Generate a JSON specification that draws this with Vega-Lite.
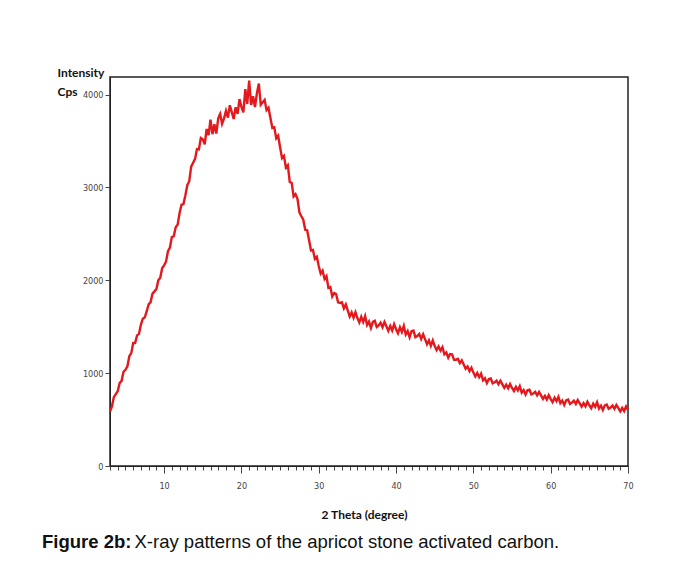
{
  "$schema": "https://vega.github.io/schema/vega-lite/v6.json",
  "autosize": {"type": "none"},
  "width": 518,
  "height": 389,
  "padding": {"left": 110, "top": 77, "right": 53, "bottom": 97},
  "background": "white",
  "config": {
    "view": {"stroke": "#222", "strokeWidth": 1.5},
    "axis": {"domainColor": "#222", "tickColor": "#444", "labelColor": "#444", "labelFont": "Liberation Sans Narrow, DejaVu Sans Condensed, sans-serif", "labelFontSize": 9, "grid": false}
  },
  "title": {
    "text": "Figure 2b:",
    "subtitle": "\u200b\u00a0\u00a0\u00a0\u00a0\u00a0\u00a0\u00a0\u00a0\u00a0\u00a0\u00a0\u00a0\u00a0\u00a0\u00a0\u00a0\u00a0\u00a0X-ray patterns of the apricot stone activated carbon.",
    "orient": "bottom",
    "anchor": "start",
    "frame": "group",
    "dx": -68,
    "offset": 13,
    "font": "Liberation Sans",
    "fontSize": 18.5,
    "fontWeight": "bold",
    "color": "#111",
    "subtitleFont": "Liberation Sans",
    "subtitleFontSize": 18.5,
    "subtitleFontWeight": "normal",
    "subtitleColor": "#111",
    "subtitlePadding": -18.5
  },
  "data": {"values": [
    {"t":3.00,"i":585},{"t":3.25,"i":643},{"t":3.50,"i":742},{"t":3.75,"i":774},{"t":4.00,"i":805},{"t":4.25,"i":893},{"t":4.50,"i":917},{"t":4.75,"i":1015},
    {"t":5.00,"i":1036},{"t":5.25,"i":1074},{"t":5.50,"i":1183},{"t":5.75,"i":1216},{"t":6.00,"i":1325},{"t":6.25,"i":1324},{"t":6.50,"i":1407},{"t":6.75,"i":1423},
    {"t":7.00,"i":1524},{"t":7.25,"i":1587},{"t":7.50,"i":1601},{"t":7.75,"i":1667},{"t":8.00,"i":1741},{"t":8.25,"i":1765},{"t":8.50,"i":1857},{"t":8.75,"i":1881},
    {"t":9.00,"i":1905},{"t":9.25,"i":2001},{"t":9.50,"i":2029},{"t":9.75,"i":2133},{"t":10.00,"i":2161},{"t":10.25,"i":2203},{"t":10.50,"i":2315},{"t":10.75,"i":2352},
    {"t":11.00,"i":2465},{"t":11.25,"i":2476},{"t":11.50,"i":2572},{"t":11.75,"i":2600},{"t":12.00,"i":2724},{"t":12.25,"i":2814},{"t":12.50,"i":2821},{"t":12.75,"i":2917},
    {"t":13.00,"i":3026},{"t":13.25,"i":3068},{"t":13.50,"i":3224},{"t":13.75,"i":3266},{"t":14.00,"i":3308},{"t":14.25,"i":3413},{"t":14.50,"i":3410},{"t":14.75,"i":3533},
    {"t":15.00,"i":3519},{"t":15.25,"i":3464},{"t":15.50,"i":3630},{"t":15.75,"i":3564},{"t":16.00,"i":3730},{"t":16.25,"i":3574},{"t":16.50,"i":3682},{"t":16.75,"i":3581},
    {"t":17.00,"i":3744},{"t":17.25,"i":3792},{"t":17.50,"i":3686},{"t":17.75,"i":3745},{"t":18.00,"i":3826},{"t":18.25,"i":3752},{"t":18.50,"i":3886},{"t":18.75,"i":3812},
    {"t":19.00,"i":3738},{"t":19.25,"i":3864},{"t":19.50,"i":3792},{"t":19.75,"i":3952},{"t":20.00,"i":3869},{"t":20.25,"i":3809},{"t":20.50,"i":4060},{"t":20.75,"i":3899},
    {"t":21.00,"i":4150},{"t":21.25,"i":3889},{"t":21.50,"i":3982},{"t":21.75,"i":3866},{"t":22.00,"i":4014},{"t":22.25,"i":4120},{"t":22.50,"i":3891},{"t":22.75,"i":3917},
    {"t":23.00,"i":3942},{"t":23.25,"i":3833},{"t":23.50,"i":3858},{"t":23.75,"i":3749},{"t":24.00,"i":3641},{"t":24.25,"i":3648},{"t":24.50,"i":3530},{"t":24.75,"i":3558},
    {"t":25.00,"i":3433},{"t":25.25,"i":3316},{"t":25.50,"i":3340},{"t":25.75,"i":3216},{"t":26.00,"i":3240},{"t":26.25,"i":3060},{"t":26.50,"i":3049},{"t":26.75,"i":2904},
    {"t":27.00,"i":2928},{"t":27.25,"i":2879},{"t":27.50,"i":2732},{"t":27.75,"i":2690},{"t":28.00,"i":2653},{"t":28.25,"i":2544},{"t":28.50,"i":2540},{"t":28.75,"i":2431},
    {"t":29.00,"i":2321},{"t":29.25,"i":2327},{"t":29.50,"i":2232},{"t":29.75,"i":2254},{"t":30.00,"i":2154},{"t":30.25,"i":2073},{"t":30.50,"i":2103},{"t":30.75,"i":2015},
    {"t":31.00,"i":2045},{"t":31.25,"i":1919},{"t":31.50,"i":1926},{"t":31.75,"i":1827},{"t":32.00,"i":1862},{"t":32.25,"i":1851},{"t":32.50,"i":1763},{"t":32.75,"i":1757},
    {"t":33.00,"i":1763},{"t":33.25,"i":1699},{"t":33.50,"i":1740},{"t":33.75,"i":1676},{"t":34.00,"i":1611},{"t":34.25,"i":1654},{"t":34.50,"i":1597},{"t":34.75,"i":1656},
    {"t":35.00,"i":1594},{"t":35.25,"i":1546},{"t":35.50,"i":1608},{"t":35.75,"i":1553},{"t":36.00,"i":1615},{"t":36.25,"i":1519},{"t":36.50,"i":1556},{"t":36.75,"i":1487},
    {"t":37.00,"i":1552},{"t":37.25,"i":1564},{"t":37.50,"i":1498},{"t":37.75,"i":1515},{"t":38.00,"i":1543},{"t":38.25,"i":1495},{"t":38.50,"i":1552},{"t":38.75,"i":1505},
    {"t":39.00,"i":1456},{"t":39.25,"i":1508},{"t":39.50,"i":1459},{"t":39.75,"i":1528},{"t":40.00,"i":1474},{"t":40.25,"i":1430},{"t":40.50,"i":1495},{"t":40.75,"i":1444},
    {"t":41.00,"i":1510},{"t":41.25,"i":1416},{"t":41.50,"i":1453},{"t":41.75,"i":1386},{"t":42.00,"i":1452},{"t":42.25,"i":1459},{"t":42.50,"i":1388},{"t":42.75,"i":1400},
    {"t":43.00,"i":1423},{"t":43.25,"i":1369},{"t":43.50,"i":1420},{"t":43.75,"i":1366},{"t":44.00,"i":1311},{"t":44.25,"i":1353},{"t":44.50,"i":1294},{"t":44.75,"i":1353},
    {"t":45.00,"i":1291},{"t":45.25,"i":1249},{"t":45.50,"i":1287},{"t":45.75,"i":1242},{"t":46.00,"i":1280},{"t":46.25,"i":1203},{"t":46.50,"i":1223},{"t":46.75,"i":1166},
    {"t":47.00,"i":1206},{"t":47.25,"i":1203},{"t":47.50,"i":1144},{"t":47.75,"i":1145},{"t":48.00,"i":1154},{"t":48.25,"i":1108},{"t":48.50,"i":1138},{"t":48.75,"i":1093},
    {"t":49.00,"i":1047},{"t":49.25,"i":1071},{"t":49.50,"i":1022},{"t":49.75,"i":1058},{"t":50.00,"i":1006},{"t":50.25,"i":964},{"t":50.50,"i":1002},{"t":50.75,"i":957},
    {"t":51.00,"i":995},{"t":51.25,"i":922},{"t":51.50,"i":945},{"t":51.75,"i":893},{"t":52.00,"i":936},{"t":52.25,"i":942},{"t":52.50,"i":891},{"t":52.75,"i":901},
    {"t":53.00,"i":919},{"t":53.25,"i":881},{"t":53.50,"i":918},{"t":53.75,"i":880},{"t":54.00,"i":842},{"t":54.25,"i":876},{"t":54.50,"i":837},{"t":54.75,"i":883},
    {"t":55.00,"i":841},{"t":55.25,"i":807},{"t":55.50,"i":852},{"t":55.75,"i":814},{"t":56.00,"i":860},{"t":56.25,"i":791},{"t":56.50,"i":818},{"t":56.75,"i":769},
    {"t":57.00,"i":816},{"t":57.25,"i":822},{"t":57.50,"i":771},{"t":57.75,"i":781},{"t":58.00,"i":799},{"t":58.25,"i":761},{"t":58.50,"i":798},{"t":58.75,"i":760},
    {"t":59.00,"i":722},{"t":59.25,"i":756},{"t":59.50,"i":717},{"t":59.75,"i":763},{"t":60.00,"i":721},{"t":60.25,"i":688},{"t":60.50,"i":735},{"t":60.75,"i":698},
    {"t":61.00,"i":745},{"t":61.25,"i":677},{"t":61.50,"i":705},{"t":61.75,"i":658},{"t":62.00,"i":706},{"t":62.25,"i":715},{"t":62.50,"i":669},{"t":62.75,"i":682},
    {"t":63.00,"i":704},{"t":63.25,"i":669},{"t":63.50,"i":710},{"t":63.75,"i":675},{"t":64.00,"i":640},{"t":64.25,"i":677},{"t":64.50,"i":643},{"t":64.75,"i":692},
    {"t":65.00,"i":654},{"t":65.25,"i":623},{"t":65.50,"i":672},{"t":65.75,"i":638},{"t":66.00,"i":687},{"t":66.25,"i":620},{"t":66.50,"i":650},{"t":66.75,"i":603},
    {"t":67.00,"i":653},{"t":67.25,"i":662},{"t":67.50,"i":616},{"t":67.75,"i":629},{"t":68.00,"i":651},{"t":68.25,"i":616},{"t":68.50,"i":658},{"t":68.75,"i":623},
    {"t":69.00,"i":589},{"t":69.25,"i":626},{"t":69.50,"i":592},{"t":69.75,"i":641},{"t":70.00,"i":604}
  ]},
  "mark": {"type": "line", "color": "#e3191e", "strokeWidth": 2.4, "clip": false},
  "encoding": {
    "x": {
      "field": "t", "type": "quantitative",
      "scale": {"domain": [3, 70], "nice": false, "zero": false},
      "axis": {
        "values": [3,4,5,6,7,8,9,10,11,12,13,14,15,16,17,18,19,20,21,22,23,24,25,26,27,28,29,30,31,32,33,34,35,36,37,38,39,40,41,42,43,44,45,46,47,48,49,50,51,52,53,54,55,56,57,58,59,60,61,62,63,64,65,66,67,68,69,70],
        "labelExpr": "datum.value % 10 === 0 ? datum.label : ''",
        "labelOverlap": false,
        "labelFlush": false,
        "tickSize": {"condition": {"test": "datum.value % 10 === 0", "value": 7}, "value": 4},
        "labelPadding": 8,
        "title": "2 Theta (degree)",
        "titleFont": "Lato",
        "titleFontSize": 12,
        "titleFontWeight": "bold",
        "titleColor": "#111",
        "titleX": 254,
        "titlePadding": 19
      }
    },
    "y": {
      "field": "i", "type": "quantitative",
      "scale": {"domain": [0, 4190], "nice": false},
      "axis": {
        "values": [0, 1000, 2000, 3000, 4000],
        "format": "d",
        "tickSize": 5,
        "labelPadding": 2,
        "title": ["Intensity", "Cps"],
        "titleAngle": 0,
        "titleAlign": "left",
        "titleBaseline": "alphabetic",
        "titleX": -53,
        "titleY": -1,
        "titleFont": "Lato",
        "titleFontSize": 12,
        "titleFontWeight": "bold",
        "titleColor": "#111",
        "titleLineHeight": 19
      }
    }
  }
}
